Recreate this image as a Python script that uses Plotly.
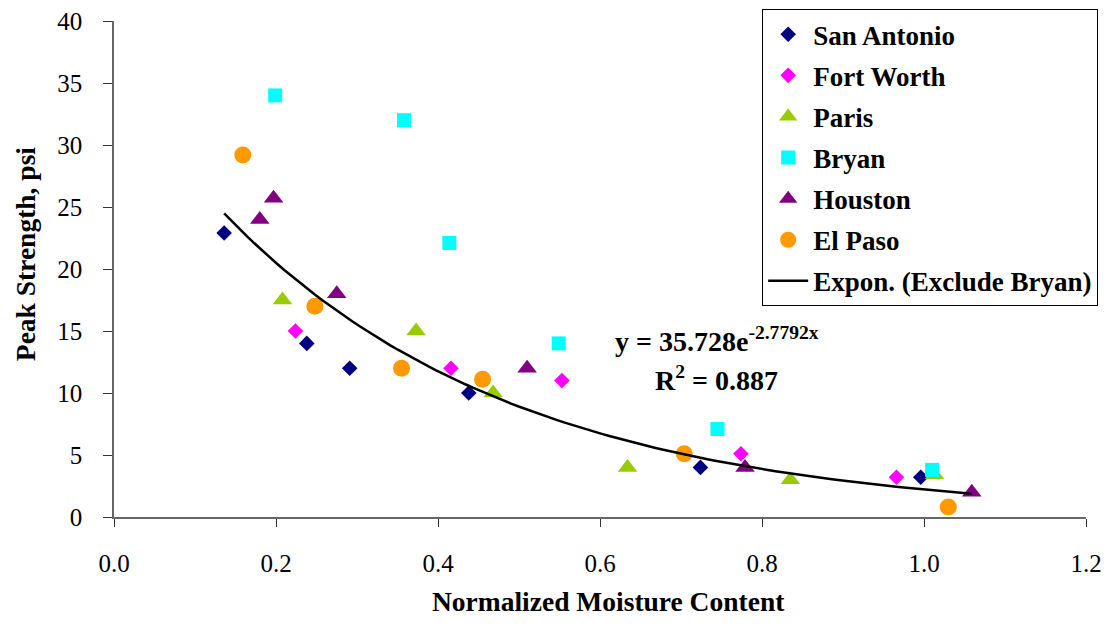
import numpy as np
import plotly.graph_objects as go

# data
san_antonio_x = [0.136, 0.238, 0.291, 0.438, 0.724, 0.996]
san_antonio_y = [22.9, 14.0, 12.0, 10.0, 4.0, 3.2]

fort_worth_x = [0.224, 0.416, 0.553, 0.774, 0.966]
fort_worth_y = [15.0, 12.0, 11.0, 5.1, 3.2]

paris_x = [0.208, 0.373, 0.468, 0.634, 0.835, 1.013]
paris_y = [17.5, 15.0, 10.0, 4.0, 3.0, 3.4]

bryan_x = [0.199, 0.358, 0.414, 0.549, 0.745, 1.010]
bryan_y = [34.0, 32.0, 22.1, 14.0, 7.1, 3.8]

houston_x = [0.180, 0.197, 0.275, 0.510, 0.779, 1.059]
houston_y = [24.0, 25.7, 18.0, 12.0, 4.0, 2.0]

el_paso_x = [0.159, 0.248, 0.355, 0.455, 0.704, 1.030]
el_paso_y = [29.2, 17.0, 12.0, 11.1, 5.1, 0.8]

# exponential trendline (Exclude Bryan), from the equation on the chart
fit_a = 35.728
fit_b = -2.7792
fit_r2 = 0.887

FONT = "Liberation Serif, Times New Roman, serif"

series = [
    ("San Antonio", san_antonio_x, san_antonio_y, "diamond", 12, "#000080"),
    ("Fort Worth", fort_worth_x, fort_worth_y, "diamond", 12, "#FF00FF"),
    ("Paris", paris_x, paris_y, "triangle-up", 17, "#99CC00"),
    ("Bryan", bryan_x, bryan_y, "square", 14, "#00FFFF"),
    ("Houston", houston_x, houston_y, "triangle-up", 17, "#800080"),
    ("El Paso", el_paso_x, el_paso_y, "circle", 17, "#FF9900"),
]

fig = go.Figure()

for i, (name, xs, ys, symbol, size, color) in enumerate(series):
    fig.add_trace(go.Scatter(
        x=xs, y=ys, mode="markers", name=f"<b>{name}</b>",
        marker=dict(symbol=symbol, size=size, color=color, line=dict(width=0)),
        legendgroup=f"g{i}",
    ))

fit_src_x = san_antonio_x + fort_worth_x + paris_x + houston_x + el_paso_x
x_fit = np.linspace(min(fit_src_x), max(fit_src_x), 100)
y_fit = fit_a * np.exp(fit_b * x_fit)
fig.add_trace(go.Scatter(
    x=x_fit, y=y_fit, mode="lines", name="<b>Expon. (Exclude Bryan)</b>",
    line=dict(color="black", width=2.5), legendgroup="fit",
))

# trendline labels
fig.add_annotation(
    x=0.744, y=14.3, xref="x", yref="y", showarrow=False,
    text=f"<b>y = {fit_a}e<sup>{fit_b}x</sup></b>",
    font=dict(family=FONT, size=28, color="black"),
)
fig.add_annotation(
    x=0.744, y=11.2, xref="x", yref="y", showarrow=False,
    text=f"<b>R<sup>2</sup> = {fit_r2}</b>",
    font=dict(family=FONT, size=28, color="black"),
)

# axis titles
fig.add_annotation(
    x=0.5087, y=-0.171, xref="paper", yref="paper", showarrow=False,
    xanchor="center", yanchor="middle",
    text="<b>Normalized Moisture Content</b>",
    font=dict(family=FONT, size=27.5, color="black"),
)
fig.add_annotation(
    x=-0.091, y=0.531, xref="paper", yref="paper", showarrow=False,
    xanchor="center", yanchor="middle", textangle=-90,
    text="<b>Peak Strength, psi</b>",
    font=dict(family=FONT, size=27.5, color="black"),
)

fig.update_xaxes(
    range=[0, 1.2], tick0=0, dtick=0.2, tickformat=".1f",
    showgrid=False, zeroline=False, showline=True, linecolor="#666666", linewidth=1.5,
    ticks="outside", ticklen=8, tickcolor="#333333", ticklabelstandoff=15,
    ticklabeloverflow="allow",
    tickfont=dict(family=FONT, size=25, color="black"),
)
fig.update_yaxes(
    range=[0, 40], tick0=0, dtick=5,
    showgrid=False, zeroline=False, showline=True, linecolor="#666666", linewidth=1.5,
    ticks="outside", ticklen=9, tickcolor="#333333", ticklabelstandoff=16,
    ticklabeloverflow="allow",
    tickfont=dict(family=FONT, size=25, color="black"),
)

fig.update_layout(
    width=1093, height=609,
    margin=dict(l=106, r=15, t=13, b=100, autoexpand=False),
    plot_bgcolor="white", paper_bgcolor="white",
    showlegend=True,
    legend=dict(
        xref="container", yref="container", x=0.69, y=0.998,
        xanchor="left", yanchor="top",
        bordercolor="black", borderwidth=1, bgcolor="white",
        font=dict(family=FONT, size=27, color="black"),
        traceorder="grouped", tracegroupgap=3, itemwidth=40,
    ),
)

fig.write_html("out.html")
